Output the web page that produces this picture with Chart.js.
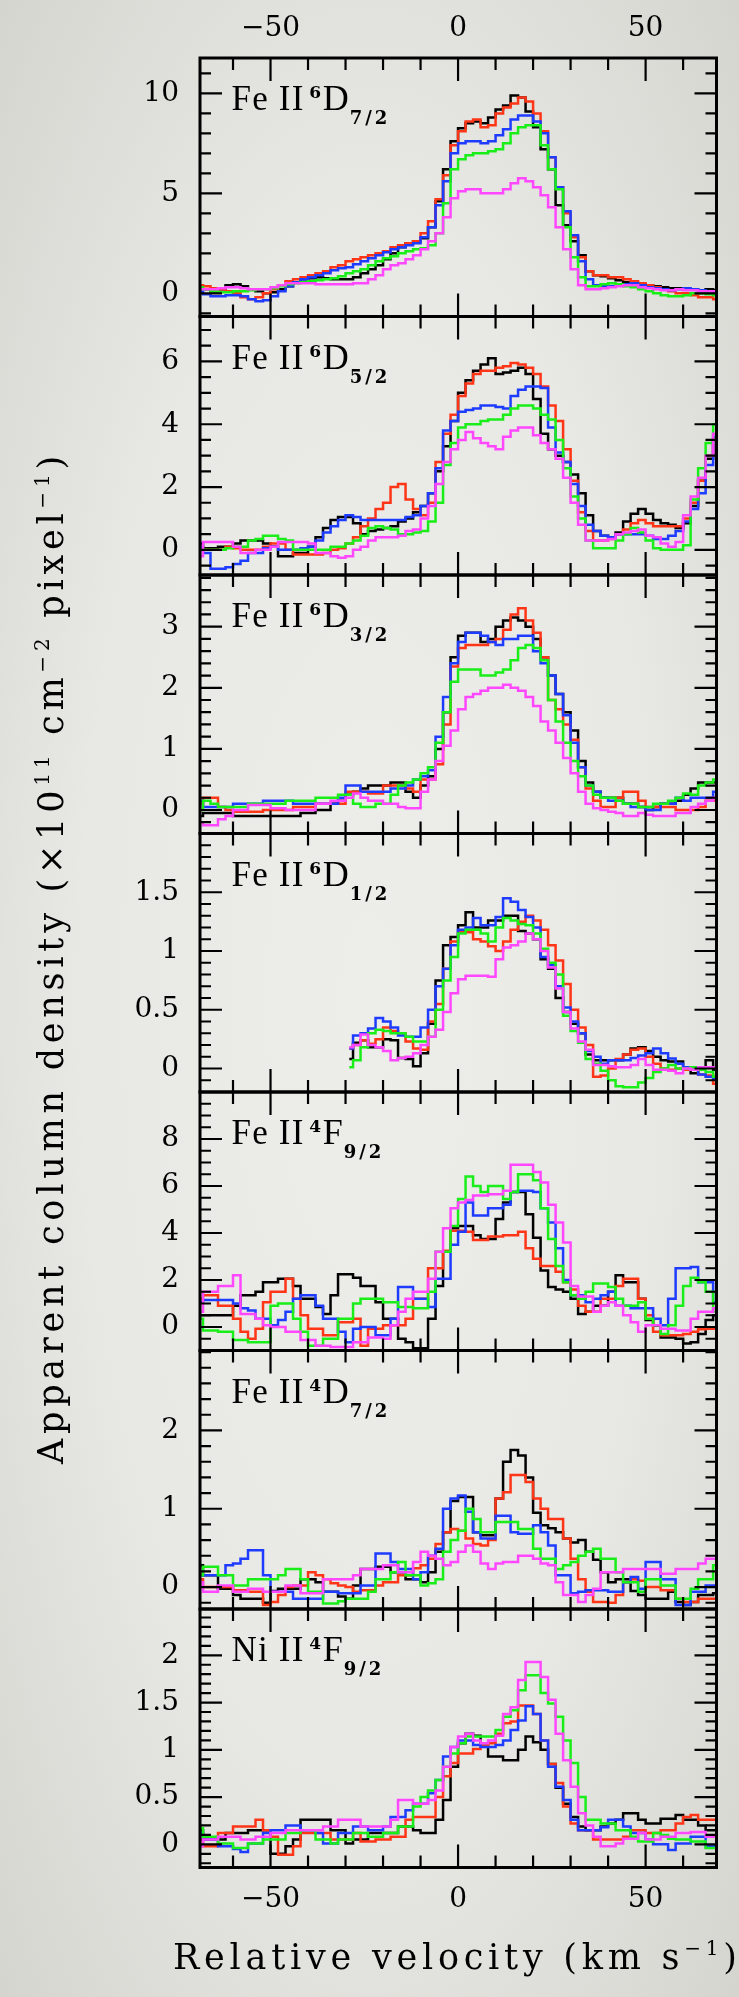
<!DOCTYPE html>
<html><head><meta charset="utf-8">
<script src="https://cdn.jsdelivr.net/npm/chart.js@4.4.0/dist/chart.umd.min.js"></script>
<style>
html,body{margin:0;padding:0;width:739px;height:1997px;overflow:hidden;}
body{background:radial-gradient(ellipse farthest-corner at 50% 50%,#ededea 0%,#e8e8e4 55%,#d5d5d0 100%);}
canvas{display:block;}
</style></head><body>
<canvas id="c" width="739" height="1997"></canvas>
<script>
// ---------------- data ----------------
const vel = [-69,-67,-65,-63,-61,-59,-57,-55,-53,-51,-49,-47,-45,-43,-41,-39,-37,-35,-33,-31,-29,-27,-25,-23,-21,-19,-17,-15,-13,-11,-9,-7,-5,-3,-1,1,3,5,7,9,11,13,15,17,19,21,23,25,27,29,31,33,35,37,39,41,43,45,47,49,51,53,55,57,59,61,63,65,67,69];

const xTicks = [-50, 0, 50];
const yTicks1 = [0, 5, 10];
const yTicks2 = [0, 2, 4, 6];
const yTicks3 = [0, 1, 2, 3];
const yTicks4 = [0, 0.5, 1, 1.5];
const yTicks5 = [0, 2, 4, 6, 8];
const yTicks6 = [0, 1, 2];
const yTicks7 = [0, 0.5, 1, 1.5, 2];

// Fe II 6D7/2
const p1Black = [0.2,0.2,0.1,0.2,0.4,0.45,0.35,0.2,0.1,0.0, 0.05,0.2,0.35,0.55,0.7,0.75,0.8,0.75,0.7,0.7, 0.7,0.8,1.0,1.2,1.4,1.7,2.0,2.3,2.5,2.6, 2.75,3.3,4.6,6.2,7.6, 8.25,8.5,8.6,8.5,8.8, 9.2,9.4,9.9,9.8,9.1,8.3,7.2,6.2,4.4,3.4, 2.6,1.9,1.1,0.9,0.85,0.75,0.65,0.55,0.5,0.45, 0.4,0.35,0.3,0.25,0.25,0.2,0.2,0.15,0.2,0.15];
const p1Red = [0.4,0.35,0.25,0.2,0.1,0.0,-0.2,-0.3,-0.2,0.0, 0.2,0.4,0.6,0.7,0.8,0.9,1.0,1.1,1.3,1.4, 1.6,1.7,1.8,1.9,2.0,2.1,2.3,2.4,2.5,2.6, 3.0,3.6,4.7,5.9,7.4, 8.1,8.6,8.7,8.3,8.4, 9.0,9.3,9.5,9.8,9.6,9.0,8.1,6.8,5.3,4.0, 2.8,1.8,1.1,0.9,0.9,0.8,0.8,0.7,0.6,0.5, 0.4,0.3,0.2,0.1,0.0,0.0,-0.1,-0.2,-0.2,-0.3];
const p1Blue = [0.1,-0.05,-0.15,-0.15,-0.1,-0.1,-0.15,-0.3,-0.4,-0.35, -0.15,0.1,0.35,0.55,0.7,0.8,0.9,1.0,1.15,1.25, 1.3,1.45,1.6,1.75,1.9,2.05,2.2,2.3,2.4,2.5, 2.8,3.3,4.4,5.6,7.0, 7.5,7.6,7.6,7.5,7.6, 7.9,8.2,8.7,8.9,8.9,8.6,8.0,6.8,5.3,4.1, 2.9,1.6,0.7,0.4,0.35,0.35,0.4,0.45,0.5,0.4, 0.3,0.25,0.2,0.15,0.2,0.25,0.2,0.15,0.1,0.05];
const p1Green = [0.3,0.2,0.1,0.05,0.05,0.1,0.1,0.15,0.2,0.2, 0.25,0.35,0.45,0.5,0.55,0.6,0.65,0.7,0.75,0.85, 1.0,1.1,1.2,1.4,1.6,1.75,1.85,2.0,2.1,2.2, 2.25,2.4,3.0,4.5,6.2, 6.7,6.9,7.0,7.0,7.1, 7.2,7.5,8.0,8.3,8.4,8.4,7.4,6.2,5.2,3.3, 1.8,0.8,0.35,0.35,0.45,0.5,0.45,0.35,0.3,0.2, 0.1,0.0,-0.1,-0.15,-0.15,-0.1,0.0,0.0,-0.05,-0.1];
const p1Magenta = [0.2,0.2,0.2,0.25,0.3,0.3,0.25,0.2,0.2,0.2, 0.3,0.4,0.5,0.5,0.5,0.5,0.45,0.45,0.45,0.45, 0.45,0.5,0.5,0.7,0.9,1.2,1.4,1.5,1.7,1.9, 2.2,2.6,3.0,3.8,4.75, 5.1,5.2,5.2,5.0,5.0, 5.0,5.2,5.5,5.75,5.6,5.3,4.9,4.3,3.3,2.2, 1.2,0.4,0.2,0.2,0.25,0.3,0.35,0.4,0.4,0.3, 0.25,0.2,0.15,0.15,0.2,0.15,0.15,0.1,0.1,0.1];

// Fe II 6D5/2
const p2Black = [0.2,0.05,0.05,0.1,0.1,0.2,0.3,0.3,0.3,0.2, 0.1,-0.2,-0.2,-0.1,-0.1,0.1,0.4,0.7,0.95,1.05, 1.05,0.85,0.5,0.6,0.65,0.7,0.75,0.9,1.0,1.2, 1.4,1.8,2.5,3.3,4.1, 5.0,5.4,5.7,5.9,6.1, 5.6,5.65,5.7,5.8,5.6,4.8,3.7,3.2,3.0,2.8, 2.4,1.8,1.1,0.6,0.45,0.4,0.55,0.9,1.15,1.3, 1.15,0.95,0.85,0.8,0.7,0.85,1.4,2.2,2.9,3.5];
const p2Red = [0.1,0.0,0.0,0.0,0.1,0.05,0.0,0.0,0.0,0.1, 0.2,0.2,0.0,-0.15,-0.15,-0.15,-0.15,-0.1,0.0,0.05, 0.2,0.4,0.75,1.0,1.3,1.5,2.0,2.1,1.6,1.3, 1.1,1.5,2.8,3.7,4.3, 4.9,5.3,5.6,5.7,5.7, 5.8,5.85,5.95,5.9,5.8,5.6,5.2,4.6,4.1,3.2, 2.2,1.2,0.6,0.3,0.3,0.35,0.5,0.65,0.85,0.95, 0.85,0.75,0.75,0.75,0.75,1.0,1.5,2.2,3.0,3.5];
const p2Blue = [0.1,-0.1,-0.6,-0.6,-0.55,-0.45,-0.35,-0.1,-0.1,0.05, 0.1,0.0,0.0,0.0,0.05,0.1,0.3,0.55,0.75,0.95, 1.1,1.05,0.95,0.95,0.95,0.95,0.95,0.95,1.05,1.1, 1.4,1.8,2.6,3.8,4.1, 4.4,4.45,4.5,4.6,4.6, 4.55,4.5,4.9,5.1,5.2,5.2,5.15,3.9,3.1,2.8, 2.1,1.4,0.8,0.6,0.45,0.4,0.5,0.5,0.5,0.5, 0.45,0.35,0.35,0.45,0.6,0.9,1.3,1.8,2.7,3.6];
const p2Green = [0.0,0.0,0.0,0.0,0.05,0.1,0.1,0.3,0.35,0.45, 0.45,0.35,0.3,0.0,0.0,0.0,0.0,0.0,0.1,0.1, 0.2,0.3,0.45,0.7,0.75,0.7,0.65,0.5,0.5,0.55, 0.6,0.9,1.5,2.7,3.4, 3.9,4.0,4.0,4.1,4.15, 4.15,4.3,4.5,4.6,4.6,4.5,4.3,4.15,3.5,2.6, 1.7,1.0,0.3,0.05,0.05,0.05,0.3,0.5,0.7,0.55, 0.3,0.05,0.0,0.0,0.0,0.15,1.6,2.6,3.4,4.0];
const p2Magenta = [-0.2,0.25,0.25,0.25,0.25,0.1,-0.1,-0.1,0.0,0.0, 0.1,0.25,0.25,0.25,0.25,0.2,-0.1,-0.1,-0.2,-0.25, -0.2,0.0,0.1,0.3,0.4,0.4,0.4,0.45,0.6,0.65, 1.0,1.4,2.1,2.8,3.2, 3.5,3.75,3.55,3.4,3.3, 3.2,3.6,3.8,3.9,3.9,3.65,3.4,3.2,2.9,2.3, 1.5,0.8,0.3,0.3,0.3,0.35,0.5,0.55,0.6,0.65, 0.45,0.4,0.2,0.1,0.25,1.1,1.7,2.3,3.0,3.7];

// Fe II 6D3/2
const p3Black = [-0.1,-0.05,-0.05,-0.05,-0.05,-0.1,-0.1,-0.1,-0.1,-0.1, -0.1,-0.1,-0.1,-0.1,-0.05,-0.05,0.0,0.0,0.1,0.15, 0.25,0.3,0.35,0.4,0.4,0.4,0.45,0.45,0.3,0.2, 0.4,0.55,1.0,1.6,2.5, 2.85,2.9,2.9,2.75,2.8, 3.0,3.1,3.15,3.1,3.0,2.8,2.5,2.2,1.9,1.6, 1.3,0.8,0.45,0.3,0.2,0.2,0.2,0.1,0.1,0.05, 0.0,0.05,0.1,0.1,0.15,0.25,0.35,0.45,0.45,0.45];
const p3Red = [0.1,0.2,0.2,0.05,0.0,-0.03,-0.03,-0.03,-0.03,0.0, 0.0,0.0,0.0,0.05,0.05,0.05,0.1,0.1,0.1,0.1, 0.3,0.3,0.3,0.27,0.27,0.4,0.4,0.4,0.35,0.3, 0.5,0.5,0.75,1.4,2.35, 2.65,2.7,2.7,2.7,2.75, 2.8,2.95,3.2,3.3,3.1,2.9,2.5,1.8,1.65,1.4, 1.15,0.7,0.35,0.15,0.05,0.05,0.2,0.3,0.3,0.15, 0.05,0.05,0.05,0.05,0.0,0.0,0.0,0.05,0.15,0.15];
const p3Blue = [0.15,0.05,0.05,0.05,0.05,0.1,0.1,0.1,0.1,0.15, 0.15,0.15,0.15,0.1,0.1,0.1,0.1,0.1,0.1,0.2, 0.4,0.4,0.3,0.3,0.3,0.3,0.35,0.35,0.4,0.5, 0.55,0.65,1.2,1.85,2.4, 2.75,2.9,2.9,2.85,2.75, 2.7,2.8,2.8,2.85,2.85,2.6,2.4,2.2,1.9,1.55, 1.1,0.7,0.4,0.3,0.2,0.15,0.15,0.1,0.05,0.05, 0.0,0.0,0.1,0.1,0.2,0.15,0.2,0.2,0.2,0.3];
const p3Green = [0.0,0.15,0.1,0.05,0.05,0.05,0.05,0.1,0.1,0.1, 0.1,0.1,0.15,0.15,0.15,0.15,0.2,0.2,0.2,0.25, 0.25,0.1,0.05,0.05,0.1,0.1,0.25,0.4,0.45,0.5, 0.6,0.7,1.1,1.6,2.1, 2.3,2.3,2.3,2.2,2.2, 2.25,2.3,2.45,2.65,2.7,2.65,2.45,1.8,1.45,1.1, 0.8,0.55,0.4,0.25,0.2,0.2,0.15,0.1,0.1,0.05, 0.05,0.1,0.1,0.15,0.2,0.27,0.25,0.4,0.45,0.5];
const p3Magenta = [-0.2,-0.25,-0.25,-0.15,-0.1,0.0,0.0,0.08,0.08,0.08, 0.03,0.03,0.0,0.0,0.0,0.0,0.1,0.1,0.15,0.15, 0.2,0.27,0.2,0.15,0.15,0.1,0.1,0.05,0.03,0.03, 0.3,0.5,0.8,1.05,1.3, 1.65,1.85,1.9,1.95,2.0, 2.0,2.05,2.0,1.95,1.85,1.7,1.45,1.3,1.1,0.85, 0.6,0.3,0.1,0.03,0.0,-0.03,-0.05,-0.1,-0.1,-0.05, -0.08,-0.1,-0.1,-0.1,-0.05,-0.05,0.05,0.1,0.15,0.2];

// Fe II 6D1/2 (no coverage below -30 km/s)
const p4Black = [null,null,null,null,null,null,null,null,null,null, null,null,null,null,null,null,null,null,null,null, 0.08,0.22,0.24,0.18,0.18,0.25,0.24,0.09,0.08,0.02, 0.13,0.38,0.75,1.05,1.12, 1.22,1.33,1.2,1.2,1.26, 1.26,1.3,1.3,1.17,1.15,1.1,0.93,0.85,0.6,0.48, 0.38,0.3,0.12,0.07,0.07,0.07,0.07,0.12,0.17,0.18, 0.15,0.1,0.07,0.06,0.06,0.0,-0.04,0.01,0.07,-0.01];
const p4Red = [null,null,null,null,null,null,null,null,null,null, null,null,null,null,null,null,null,null,null,null, 0.17,0.2,0.24,0.21,0.25,0.35,0.32,0.3,0.23,0.17, 0.16,0.4,0.55,0.85,1.08, 1.16,1.16,1.1,1.08,1.04, 1.0,1.08,1.18,1.25,1.3,1.26,1.18,1.05,0.92,0.72, 0.5,0.35,0.2,-0.07,-0.06,0.0,0.08,0.12,0.16,0.17, 0.1,0.04,0.0,-0.01,0.0,-0.01,-0.01,-0.05,-0.06,-0.13];
const p4Blue = [null,null,null,null,null,null,null,null,null,null, null,null,null,null,null,null,null,null,null,null, 0.17,0.28,0.3,0.34,0.43,0.4,0.35,0.28,0.27,0.27, 0.35,0.5,0.7,0.85,1.05, 1.18,1.2,1.28,1.22,1.22, 1.29,1.45,1.42,1.35,1.29,1.2,0.95,0.88,0.7,0.52, 0.4,0.3,0.15,0.1,0.04,0.07,0.07,0.07,0.09,0.11, 0.13,0.17,0.13,0.085,0.04,0.01,-0.01,-0.05,-0.07,-0.09];
const p4Green = [null,null,null,null,null,null,null,null,null,null, null,null,null,null,null,null,null,null,null,null, 0.01,0.07,0.18,0.3,0.33,0.32,0.3,0.3,0.27,0.23, 0.23,0.27,0.5,0.75,0.95, 1.15,1.18,1.18,1.15,1.08, 1.2,1.28,1.26,1.23,1.22,1.15,1.02,0.9,0.8,0.45, 0.32,0.22,0.08,0.04,-0.02,-0.1,-0.15,-0.16,-0.16,-0.12, -0.08,-0.03,0.0,0.03,0.0,0.0,0.01,-0.01,-0.03,-0.07];
const p4Magenta = [null,null,null,null,null,null,null,null,null,null, null,null,null,null,null,null,null,null,null,null, 0.18,0.2,0.29,0.2,0.18,0.15,0.07,0.09,0.1,0.13, 0.2,0.27,0.33,0.48,0.64, 0.76,0.79,0.79,0.79,0.78, 0.93,1.03,1.05,1.08,1.15,1.1,1.0,0.86,0.68,0.48, 0.34,0.23,0.16,0.03,0.03,0.02,0.01,0.01,0.03,0.08, 0.03,-0.01,-0.01,-0.02,-0.04,0.0,-0.01,0.01,0.01,0.01];

// Fe II 4F9/2
const p5Black = [0.5,0.5,0.5,0.5,0.5,0.9,1.35,1.35,1.5,1.9, 1.9,2.05,2.05,1.75,1.2,1.2,0.85,0.55,1.35,2.25, 2.25,2.1,1.75,1.75,1.05,0.35,0.35,-0.5,-0.65,-0.9, -0.9,0.35,1.75,3.2,4.2, 4.3,4.3,3.9,3.75,3.75, 4.6,5.3,5.75,5.75,4.8,3.8,2.4,1.7,1.6,1.5, 1.2,0.55,0.65,0.9,0.9,1.5,2.2,1.9,1.9,1.2, 0.3,0.05,-0.45,-0.45,-0.5,-0.7,-0.65,-0.3,0.3,0.5];
const p5Red = [1.2,1.35,1.35,0.9,0.9,0.35,-0.2,-0.5,-0.07,1.05, 1.5,1.5,2.05,1.2,0.5,-0.07,-0.07,-0.35,-0.35,0.2, 0.2,0.35,-0.8,-0.07,-0.07,0.07,0.07,0.07,0.35,1.2, 1.2,2.5,2.5,3.25,4.1, 4.1,4.05,3.7,3.7,3.85, 3.85,3.9,3.9,4.05,3.35,2.9,2.6,2.6,2.35,1.9, 1.6,0.9,0.65,0.65,1.2,1.2,1.75,2.05,2.05,1.2, 0.5,-0.2,-0.35,-0.35,-0.35,-0.3,-0.2,-0.1,-0.07,-0.07];
const p5Blue = [1.05,1.15,1.15,1.15,1.15,1.0,0.8,0.7,0.35,0.35, 0.07,0.3,0.65,1.2,1.35,1.35,0.9,0.35,0.35,-0.2, -0.65,-0.07,0.0,0.0,-0.35,-0.35,0.35,1.7,1.7,1.2, 1.2,0.85,2.05,2.05,3.5, 4.05,5.3,4.75,4.75,5.05, 5.05,5.2,5.75,5.8,5.8,5.75,5.05,4.45,3.35,2.0, 1.35,1.35,1.05,1.2,1.35,1.5,0.9,0.9,0.8,0.8, 0.8,0.35,0.07,1.2,2.5,2.5,2.55,1.9,1.9,1.05];
const p5Green = [0.35,-0.15,-0.15,-0.2,-0.2,-0.55,-0.55,-0.65,-0.65,-0.65, 0.9,1.0,1.0,0.35,-0.2,-0.8,-0.8,-0.5,-0.5,0.35, 0.35,1.0,1.2,1.2,1.2,1.05,1.05,0.85,0.85,0.8, 0.8,1.5,3.2,3.2,4.3, 5.45,6.4,6.0,5.75,6.0, 6.0,5.45,5.75,6.5,6.5,6.25,5.05,3.75,2.6,1.9, 1.35,1.2,1.5,1.85,1.85,1.7,1.2,0.9,0.9,1.05, 0.35,0.07,-0.3,0.07,0.9,1.75,2.1,1.9,1.5,0.65];
const p5Magenta = [0.65,1.5,1.5,1.75,1.75,2.2,0.55,0.55,0.35,0.07, 0.0,0.0,-0.2,-0.2,-0.55,-0.55,-0.8,-0.8,-0.85,-0.85, -0.85,-0.65,-0.65,-0.45,-0.45,-0.5,0.07,0.65,1.2,1.5, 1.5,2.05,3.2,4.2,5.05, 5.3,5.4,5.6,5.6,5.65, 5.65,5.8,6.9,6.9,6.9,6.6,6.15,5.2,4.45,3.6, 1.75,1.3,1.3,0.65,0.9,1.05,0.9,0.5,0.2,-0.2, 0.07,0.07,-0.07,-0.07,-0.15,-0.15,0.35,0.65,0.65,0.8];

// Fe II 4D7/2
const p6Black = [0.28,0.15,0.15,-0.02,-0.02,-0.1,-0.15,-0.15,-0.15,-0.2, -0.05,-0.02,-0.02,-0.02,0.1,0.1,0.06,-0.06,-0.06,-0.12, -0.15,0.02,0.23,0.23,0.26,0.26,0.19,0.19,0.1,0.1, 0.06,0.19,0.45,0.7,1.1, 1.15,1.15,0.7,0.66,0.66, 1.13,1.6,1.75,1.68,1.4,0.95,0.79,0.75,0.7,0.62, 0.57,0.6,0.45,0.35,0.19,0.06,0.1,0.1,-0.05,-0.1, -0.15,-0.15,-0.15,-0.06,-0.19,-0.23,-0.19,-0.1,-0.1,-0.08];
const p6Red = [0.1,0.0,0.0,0.0,0.0,-0.04,-0.04,-0.06,-0.06,-0.23, -0.19,-0.1,0.0,0.02,0.02,0.19,0.15,0.1,0.05,0.02, 0.0,-0.06,-0.04,-0.04,0.02,0.06,0.06,0.15,0.15,0.24, 0.28,0.36,0.55,0.7,0.74, 0.72,0.62,0.55,0.53,0.6, 1.13,1.21,1.43,1.43,1.34,1.13,1.0,0.87,0.87,0.62, 0.36,0.1,-0.06,-0.19,-0.19,-0.2,-0.1,0.06,0.1,0.08, 0.0,0.0,-0.04,-0.04,-0.15,-0.19,-0.19,-0.15,-0.15,-0.15];
const p6Blue = [0.15,0.15,0.15,0.15,0.28,0.3,0.36,0.47,0.47,0.15, -0.06,-0.06,-0.06,-0.15,-0.15,-0.15,-0.15,-0.06,-0.06,-0.08, -0.08,-0.08,0.02,0.02,0.43,0.43,0.32,0.23,0.23,0.1, 0.19,0.4,0.49,1.0,1.13, 1.17,0.96,0.7,0.62,0.62, 0.91,0.91,0.7,0.68,0.68,0.79,0.7,0.53,0.15,0.15, -0.08,-0.06,-0.04,-0.04,-0.04,-0.06,-0.06,0.06,0.13,-0.02, 0.32,0.32,0.1,0.1,-0.23,-0.23,-0.06,-0.06,0.02,0.02];
const p6Green = [0.15,0.26,0.26,0.15,0.15,0.02,0.02,0.1,0.1,0.1, 0.1,0.15,0.23,0.23,0.1,-0.06,-0.06,-0.21,-0.21,-0.18, -0.15,-0.15,-0.15,-0.06,0.1,0.1,0.19,0.32,0.15,0.15, 0.02,0.05,0.1,0.45,0.6, 0.72,1.0,0.87,0.7,0.7, 0.83,0.83,0.83,0.74,0.74,0.49,0.36,0.36,0.23,0.28, 0.32,0.4,0.45,0.49,0.36,0.36,0.19,0.06,0.06,-0.06, 0.1,0.1,0.02,0.02,-0.15,-0.15,-0.02,0.1,0.1,0.28];
const p6Magenta = [0.06,-0.06,-0.06,0.02,0.02,-0.06,-0.06,-0.02,-0.02,-0.06, -0.06,-0.06,0.02,0.02,-0.08,-0.08,-0.08,0.1,0.1,0.1, 0.1,0.15,0.23,0.23,0.23,0.28,0.28,0.19,0.19,0.32, 0.45,0.4,0.36,0.28,0.32, 0.45,0.53,0.45,0.3,0.23, 0.3,0.32,0.32,0.4,0.4,0.36,0.3,0.28,0.06,-0.1, -0.1,-0.19,-0.1,-0.02,0.19,0.19,0.19,0.23,0.23,0.23, 0.23,0.23,0.17,0.17,0.23,0.23,0.23,0.3,0.36,0.36];

// Ni II 4F9/2
const p7Black = [0.15,0.05,0.05,0.05,0.12,0.12,0.12,0.15,0.15,0.15, -0.1,-0.1,-0.02,0.05,0.26,0.26,0.26,0.26,0.15,0.15, 0.01,0.05,0.05,0.12,0.12,0.12,0.12,0.19,0.19,0.15, 0.12,0.12,0.26,0.47,0.82, 1.07,1.17,1.15,1.07,0.93, 0.93,0.89,0.89,1.0,1.14,1.08,1.0,0.85,0.6,0.43, 0.29,0.19,0.15,0.15,0.19,0.22,0.26,0.33,0.33,0.26, 0.22,0.22,0.27,0.27,0.31,0.26,0.26,0.2,0.15,0.15];
const p7Red = [0.05,-0.02,-0.02,0.12,0.12,0.19,0.19,0.19,0.26,0.15, 0.08,-0.11,-0.11,-0.02,0.12,0.12,0.12,0.12,0.05,0.05, 0.05,0.12,0.03,0.03,0.05,0.05,0.08,0.08,0.26,0.29, 0.29,0.29,0.5,0.72,0.86, 0.96,0.96,1.01,1.04,1.07, 1.17,1.28,1.3,1.47,1.47,1.38,1.1,0.85,0.65,0.4, 0.22,0.15,0.15,0.05,0.05,0.05,0.05,0.08,0.15,0.15, 0.12,0.12,0.15,0.15,0.22,0.29,0.31,0.26,0.26,0.26];
const p7Blue = [0.12,0.05,0.05,-0.02,-0.02,-0.05,-0.08,0.01,0.01,0.12, 0.15,0.15,0.2,0.2,0.15,0.15,0.12,0.01,0.01,0.12, 0.12,0.19,0.19,0.15,0.15,0.19,0.29,0.29,0.36,0.43, 0.43,0.54,0.68,0.93,1.03, 1.1,1.1,1.05,1.03,1.03, 1.05,1.1,1.21,1.31,1.46,1.38,1.1,0.82,0.61,0.47, 0.26,0.15,0.15,0.15,0.18,0.26,0.26,0.19,0.12,0.12, 0.05,0.0,0.0,-0.06,0.01,0.01,0.08,0.08,-0.02,-0.02];
const p7Green = [0.17,0.08,0.08,0.01,0.01,-0.04,-0.04,0.01,0.01,0.05, 0.05,0.05,0.12,0.12,0.15,0.15,0.05,0.05,0.01,0.05, 0.05,0.12,0.12,0.08,0.08,0.12,0.12,0.19,0.19,0.4, 0.5,0.57,0.68,0.82,0.96, 1.07,1.14,1.14,1.14,1.14, 1.21,1.35,1.42,1.63,1.79,1.79,1.6,1.49,1.35,1.1, 0.86,0.5,0.26,0.26,0.22,0.22,0.15,0.15,0.08,0.03, 0.03,0.12,0.1,0.06,0.05,0.05,0.03,0.03,-0.04,-0.04];
const p7Magenta = [-0.02,0.05,0.05,0.08,0.08,0.08,0.05,0.05,0.08,0.08, 0.12,0.12,0.15,0.15,0.15,0.15,0.15,0.19,0.19,0.26, 0.26,0.26,0.19,0.19,0.19,0.19,0.26,0.47,0.47,0.43, 0.43,0.47,0.57,0.82,1.03, 1.14,1.17,1.1,1.07,1.1, 1.15,1.38,1.45,1.74,1.93,1.93,1.77,1.53,1.17,0.89, 0.61,0.33,0.2,0.08,-0.02,-0.02,0.01,0.06,0.06,0.12, 0.05,0.05,0.08,0.08,0.12,0.12,0.13,0.13,0.08,0.08];

// ---------------- layout / style ----------------
const seriesColors = ['#000000', '#ff3517', '#1e3cff', '#19ee19', '#ff47ff'];
const seriesOrder = [5, 4, 3, 2, 1];

const panels = [
  {id:'y1', min:-1.16, max:11.77, major:yTicks1, minor:1,   el:'Fe II', sup:'6', term:'D', sub:'7/2', series:[p1Black,p1Red,p1Blue,p1Green,p1Magenta]},
  {id:'y2', min:-0.8,  max:7.43,  major:yTicks2, minor:0.5, el:'Fe II', sup:'6', term:'D', sub:'5/2', series:[p2Black,p2Red,p2Blue,p2Green,p2Magenta]},
  {id:'y3', min:-0.385,max:3.846, major:yTicks3, minor:0.2, el:'Fe II', sup:'6', term:'D', sub:'3/2', series:[p3Black,p3Red,p3Blue,p3Green,p3Magenta]},
  {id:'y4', min:-0.2,  max:2.0,   major:yTicks4, minor:0.1, el:'Fe II', sup:'6', term:'D', sub:'1/2', series:[p4Black,p4Red,p4Blue,p4Green,p4Magenta]},
  {id:'y5', min:-1.0,  max:10.0,  major:yTicks5, minor:0.5, el:'Fe II', sup:'4', term:'F', sub:'9/2', series:[p5Black,p5Red,p5Blue,p5Green,p5Magenta]},
  {id:'y6', min:-0.28, max:3.02,  major:yTicks6, minor:0.2, el:'Fe II', sup:'4', term:'D', sub:'7/2', series:[p6Black,p6Red,p6Blue,p6Green,p6Magenta]},
  {id:'y7', min:-0.245,max:2.49,  major:yTicks7, minor:0.1, el:'Ni II', sup:'4', term:'F', sub:'9/2', series:[p7Black,p7Red,p7Blue,p7Green,p7Magenta]}
];

const TICK_FONT = {family: '"DejaVu Serif", serif', size: 28};

const datasets = [];
panels.forEach(p => {
  p.series.forEach((vals, s) => {
    datasets.push({
      data: vel.map((v, i) => ({x: v, y: vals[i]})),
      xAxisID: 'x', yAxisID: p.id,
      borderColor: seriesColors[s], borderWidth: 2.5,
      pointRadius: 0, pointHoverRadius: 0, fill: false,
      stepped: 'middle', spanGaps: false, order: seriesOrder[s]
    });
  });
});

const xCommon = {
  type: 'linear', min: -68.8, max: 68.9,
  grid: {display: false, drawTicks: false}, border: {display: false},
  afterBuildTicks: s => { s.ticks = xTicks.map(v => ({value: v})); },
  ticks: {font: TICK_FONT, color: '#000', maxRotation: 0, autoSkip: false,
          callback: v => String(v).replace('-', '\u2212')}
};
const scales = {
  x: Object.assign({}, xCommon, {position: 'bottom', afterFit: s => { s.height = 129.5; },
        ticks: Object.assign({}, xCommon.ticks, {padding: 15})}),
  x2: Object.assign({}, xCommon, {position: 'top', afterFit: s => { s.height = 58; },
        ticks: Object.assign({}, xCommon.ticks, {padding: 12})})
};
panels.forEach((p, i) => {
  scales[p.id] = {
    type: 'linear', position: 'left', stack: 'panels', stackWeight: 1, weight: 100 - i * 10,
    min: p.min, max: p.max, offset: false,
    grid: {display: false, drawTicks: false}, border: {display: false},
    afterBuildTicks: s => { s.ticks = p.major.map(v => ({value: v})); },
    afterFit: s => { s.width = 200; },
    ticks: {font: TICK_FONT, color: '#000', padding: 21, autoSkip: false, callback: v => String(v)}
  };
});

// text helpers: per-character placement with explicit tracking
function charWidthSum(ctx, parts) {
  let w = 0, n = 0;
  parts.forEach(p => { ctx.font = p.font; for (const ch of p.t) { w += ctx.measureText(ch).width; n++; } });
  return {w, n};
}
function drawTracked(ctx, parts, x, y, ls) {
  let cx = x;
  parts.forEach(p => {
    ctx.font = p.font;
    for (const ch of p.t) {
      ctx.fillText(ch, cx, y + (p.dy || 0));
      cx += ctx.measureText(ch).width + ls;
    }
  });
  return cx - ls;
}

const framePlugin = {
  id: 'frames',
  afterDatasetsDraw(chart) {
    const ctx = chart.ctx, ca = chart.chartArea, xs = chart.scales.x;
    ctx.save();
    ctx.strokeStyle = '#000';
    ctx.lineCap = 'butt';
    panels.forEach(p => {
      const ys = chart.scales[p.id];
      const top = ys.top, bot = ys.bottom;
      ctx.lineWidth = 2.2;
      ctx.beginPath();
      for (let k = -6; k <= 6; k++) {
        const v = k * 10;
        const px = xs.getPixelForValue(v);
        const len = (k % 5 === 0) ? 23 : 12;
        ctx.moveTo(px, top); ctx.lineTo(px, top + len);
        ctx.moveTo(px, bot); ctx.lineTo(px, bot - len);
      }
      const k0 = Math.ceil(p.min / p.minor - 1e-6), k1 = Math.floor(p.max / p.minor + 1e-6);
      for (let k = k0; k <= k1; k++) {
        const v = k * p.minor;
        const py = ys.getPixelForValue(v);
        const isMajor = p.major.some(m => Math.abs(m - v) < 1e-6);
        const len = isMajor ? 22 : 11;
        ctx.moveTo(ca.left, py); ctx.lineTo(ca.left + len, py);
        ctx.moveTo(ca.right, py); ctx.lineTo(ca.right - len, py);
      }
      ctx.stroke();
      ctx.lineWidth = 3;
      ctx.strokeRect(ca.left, top, ca.right - ca.left, bot - top);
    });
    ctx.restore();
  },
  afterDraw(chart) {
    const ctx = chart.ctx, ca = chart.chartArea;
    ctx.save();
    ctx.fillStyle = '#000';
    ctx.textBaseline = 'alphabetic';
    ctx.textAlign = 'left';
    // panel labels
    const EL = '35px "Liberation Serif", serif', TERM = '36px "Liberation Serif", serif';
    const SUP = 'bold 17px "DejaVu Serif", serif', SUB = 'bold 18px "DejaVu Serif", serif';
    panels.forEach(p => {
      const ys = chart.scales[p.id];
      const base = ys.top + 52;
      let x = ca.left + 31.5;
      x = drawTracked(ctx, [{t: p.el, font: EL}], x, base, 1.2) + 6;
      x = drawTracked(ctx, [{t: p.sup, font: SUP}], x, base - 12, 0) + 1.5;
      x = drawTracked(ctx, [{t: p.term, font: TERM}], x, base, 0) + 1;
      drawTracked(ctx, [{t: p.sub, font: SUB}], x, base + 14, 3);
    });
    // axis titles
    const BIG = '35px "DejaVu Serif", serif', SMALL = '20px "DejaVu Serif", serif';
    const xParts = [
      {t: 'Relative velocity (km s', font: BIG},
      {t: '\u22121', font: SMALL, dy: -14},
      {t: ')', font: BIG}
    ];
    const m = charWidthSum(ctx, xParts);
    const ls = (564 - m.w) / (m.n - 1);
    drawTracked(ctx, xParts, 173, 1969, ls);

    const yParts = [
      {t: 'Apparent column density (\u00d710', font: BIG},
      {t: '11', font: SMALL, dy: -14},
      {t: ' cm', font: BIG},
      {t: '\u22122', font: SMALL, dy: -14},
      {t: ' pixel', font: BIG},
      {t: '\u22121', font: SMALL, dy: -14},
      {t: ')', font: BIG}
    ];
    const my = charWidthSum(ctx, yParts);
    const wy = my.w + (my.n - 1) * ls;
    ctx.translate(63, 960);
    ctx.rotate(-Math.PI / 2);
    drawTracked(ctx, yParts, -wy / 2, 0, ls);
    ctx.restore();
  }
};

new Chart(document.getElementById('c'), {
  type: 'line',
  data: {datasets},
  options: {
    responsive: false, animation: false, devicePixelRatio: 1,
    layout: {padding: {left: 0, right: 22.5, top: 0, bottom: 0}},
    plugins: {legend: {display: false}, tooltip: {enabled: false}, title: {display: false}},
    events: [],
    scales
  },
  plugins: [framePlugin]
});
</script>
</body></html>
